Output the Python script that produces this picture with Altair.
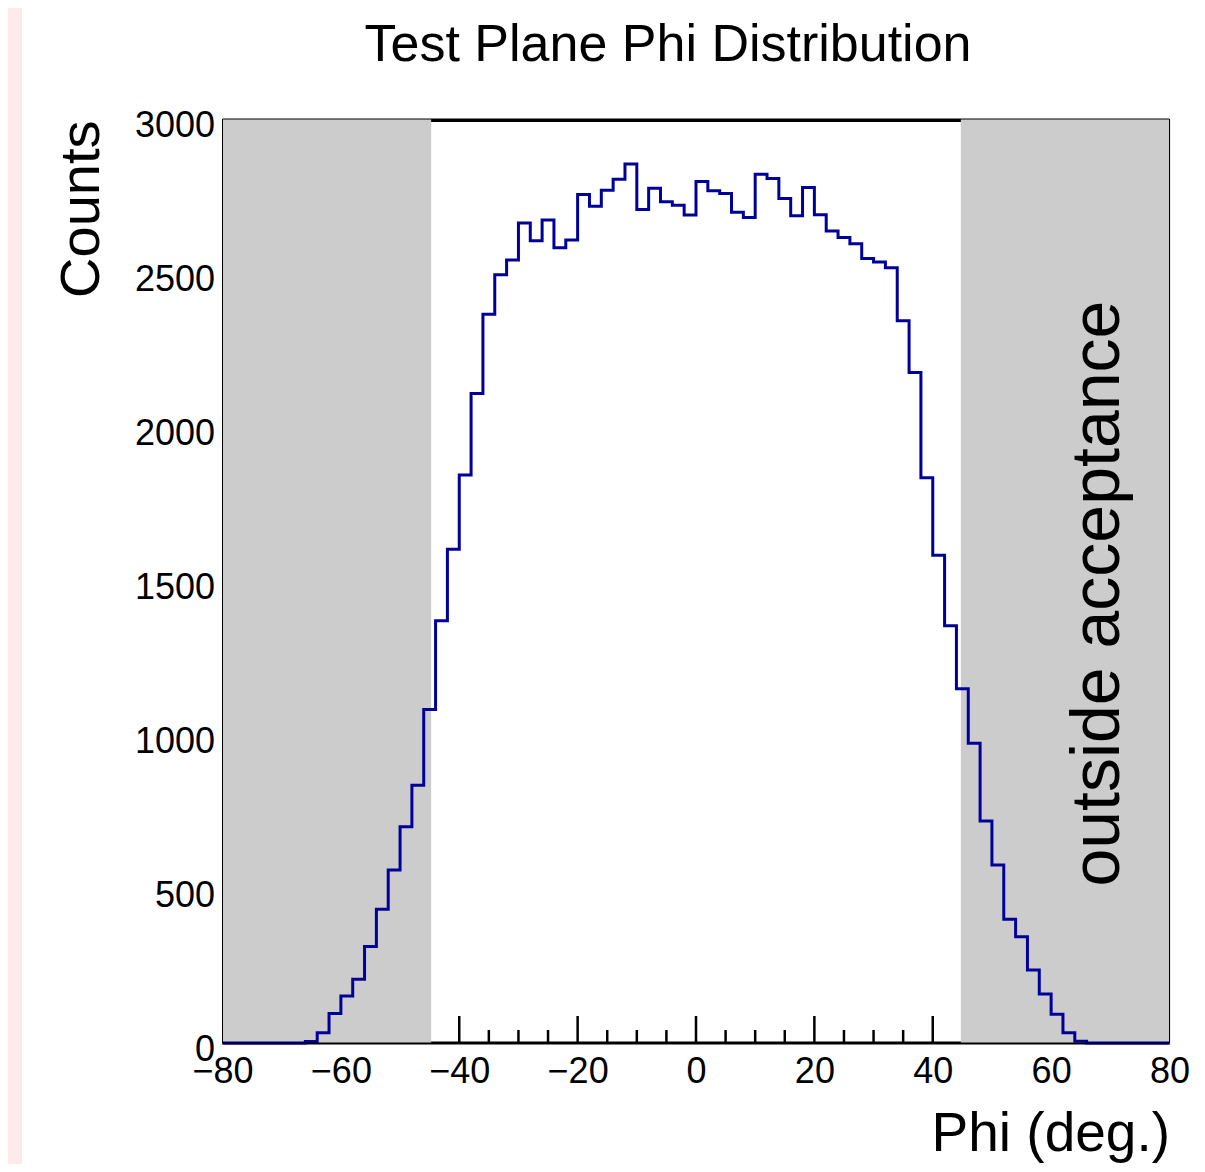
import altair as alt
import pandas as pd

W, H = 947, 924

# ---- data -------------------------------------------------------------
bin_lo = [-80, -78, -76, -74, -72, -70, -68, -66, -64, -62,
          -60, -58, -56, -54, -52, -50, -48, -46, -44, -42,
          -40, -38, -36, -34, -32, -30, -28, -26, -24, -22,
          -20, -18, -16, -14, -12, -10, -8, -6, -4, -2,
          0, 2, 4, 6, 8, 10, 12, 14, 16, 18,
          20, 22, 24, 26, 28, 30, 32, 34, 36, 38,
          40, 42, 44, 46, 48, 50, 52, 54, 56, 58,
          60, 62, 64, 66, 68, 70, 72, 74, 76, 78]
counts = [0, 0, 0, 0, 0, 0, 0, 5, 33, 96,
          153, 207, 313, 434, 562, 702, 837, 1083, 1371, 1603,
          1844, 2109, 2366, 2494, 2542, 2662, 2605, 2672, 2582, 2607,
          2755, 2717, 2769, 2804, 2854, 2706, 2775, 2731, 2720, 2688,
          2797, 2767, 2758, 2697, 2680, 2821, 2807, 2742, 2686, 2778,
          2689, 2636, 2615, 2595, 2547, 2536, 2517, 2345, 2177, 1835,
          1584, 1355, 1150, 973, 721, 578, 402, 345, 237, 159,
          93, 33, 6, 0, 0, 0, 0, 0, 0, 0]
x_max = 80

shade_lo = [-80, 44.75]
shade_hi = [-44.75, 80]

x_label_values = [-80, -60, -40, -20, 0, 20, 40, 60, 80]
y_label_values = [0, 500, 1000, 1500, 2000, 2500, 3000]
major_ticks = [-60, -40, -20, 0, 20, 40, 60]
minor_ticks = [-75, -70, -65, -55, -50, -45, -35, -30, -25, -15, -10, -5,
               5, 10, 15, 25, 30, 35, 45, 50, 55, 65, 70, 75]

note_x = [71.4]
note_y = [1459]
note_text = ["outside acceptance"]

title_text = "Test Plane Phi Distribution"

# ---- tables -----------------------------------------------------------
hist_df = pd.DataFrame({"phi": bin_lo + [x_max], "count": counts + [counts[-1]]})
shade_df = pd.DataFrame({"lo": shade_lo, "hi": shade_hi})
major_df = pd.DataFrame({"t": major_ticks})
minor_df = pd.DataFrame({"t": minor_ticks})
note_df = pd.DataFrame({"x": note_x, "y": note_y, "label": note_text})

FONT = "Liberation Sans"
xscale = alt.Scale(domain=[-80, 80], nice=False, zero=False)
yscale = alt.Scale(domain=[0, 3000], nice=False, zero=True)

x_axis = alt.Axis(
    values=x_label_values,
    format="d",
    title="Phi (deg.)",
    grid=False,
    domain=False,
    ticks=False,
    tickSize=0,
    labelFontSize=36,
    labelFont=FONT,
    labelColor="black",
    labelBaseline="alphabetic",
    labelPadding=39.7,
    labelFlush=False,
    labelOverlap=False,
    titleFont=FONT,
    titleFontSize=55,
    titleFontWeight="normal",
    titleColor="black",
    titleAlign="right",
    titleBaseline="alphabetic",
    titleX=W,
    titleY=107,
)
y_axis = alt.Axis(
    values=y_label_values,
    format="d",
    title="Counts",
    grid=False,
    domain=False,
    ticks=False,
    tickSize=0,
    labelFontSize=36,
    labelFont=FONT,
    labelColor="black",
    labelBaseline="alphabetic",
    labelPadding=8,
    labelOffset=17,
    labelOverlap=False,
    titleFont=FONT,
    titleFontSize=56,
    titleFontWeight="normal",
    titleColor="black",
    titleAngle=270,
    titleAlign="right",
    titleBaseline="alphabetic",
    titleX=-124.5,
    titleY=1,
)

one = pd.DataFrame({"d": [0]})

# pink strip at the left edge of the page
strip = alt.Chart(one).mark_rect(color="#fdeaea").encode(
    x=alt.value(-214.5), x2=alt.value(-200.5), y=alt.value(-111), y2=alt.value(H + 121)
)

# inward ticks on the x axis
major = alt.Chart(major_df).mark_rule(color="black", strokeWidth=2.5).encode(
    x=alt.X("t:Q", scale=xscale, axis=x_axis), y=alt.value(H), y2=alt.value(H - 27)
)
minor = alt.Chart(minor_df).mark_rule(color="black", strokeWidth=2.5).encode(
    x=alt.X("t:Q", scale=xscale, axis=x_axis), y=alt.value(H), y2=alt.value(H - 13)
)

# thick top and bottom frame lines
bottom_line = alt.Chart(one).mark_rule(color="black", strokeWidth=3).encode(
    x=alt.value(0), x2=alt.value(W), y=alt.value(H)
)
top_line = alt.Chart(one).mark_rule(color="black", strokeWidth=3).encode(
    x=alt.value(0), x2=alt.value(W), y=alt.value(1.5)
)

# grey "outside acceptance" regions
shade = alt.Chart(shade_df).mark_rect(color="#cccccc").encode(
    x=alt.X("lo:Q", scale=xscale, axis=x_axis),
    x2="hi:Q",
    y=alt.value(0),
    y2=alt.value(H),
)

hist = alt.Chart(hist_df).mark_line(
    interpolate="step-after", color="#000099", strokeWidth=3
).encode(
    x=alt.X("phi:Q", scale=xscale, axis=x_axis),
    y=alt.Y("count:Q", scale=yscale, axis=y_axis),
)

# thin frame on top
frame = alt.Chart(one).mark_rect(
    filled=False, fillOpacity=0, stroke="black", strokeWidth=1
).encode(x=alt.value(0), x2=alt.value(W), y=alt.value(0), y2=alt.value(H))

note = alt.Chart(note_df).mark_text(
    angle=270, align="center", baseline="alphabetic", fontSize=68, font=FONT, color="black"
).encode(
    x=alt.X("x:Q", scale=xscale, axis=x_axis),
    y=alt.Y("y:Q", scale=yscale, axis=y_axis),
    text="label:N",
)

title = alt.Chart(pd.DataFrame({"label": [title_text]})).mark_text(
    align="center", baseline="alphabetic", fontSize=52, font=FONT, color="black"
).encode(x=alt.value(445.5), y=alt.value(-58), text="label:N")

chart = alt.layer(
    strip, major, minor, bottom_line, top_line, shade, hist, frame, note, title
).properties(
    width=W,
    height=H,
    autosize=alt.AutoSizeParams(type="none"),
    padding={"left": 214.5, "top": 111, "right": 24, "bottom": 121},
).configure_view(stroke=None).configure(background="white", font=FONT)

chart.save("out.html", embed_options={"renderer": "svg", "actions": False})
